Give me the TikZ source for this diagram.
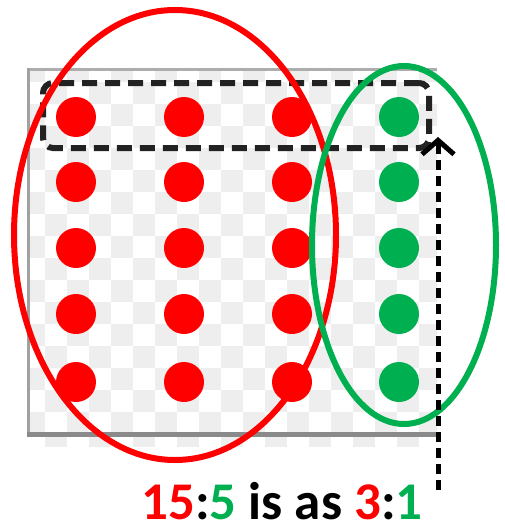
\documentclass[tikz,border=0pt]{standalone}
\usepackage{fontspec}
\setmainfont{Carlito}
\usetikzlibrary{arrows.meta}
\definecolor{myred}{HTML}{FF0000}
\definecolor{mygreen}{HTML}{00B050}
\definecolor{checkgray}{HTML}{EEEEEE}
\definecolor{panelgray}{HTML}{8A8A8A}
\definecolor{boxgray}{HTML}{222222}
\tikzset{
  reddot/.style={circle, fill=myred, draw=none, minimum size=40pt, inner sep=0pt},
  greendot/.style={circle, fill=mygreen, draw=none, minimum size=40pt, inner sep=0pt},
  rowbox/.style={draw=boxgray, line width=6pt, dash pattern=on 15pt off 8pt, rounded corners=10pt, minimum width=386pt, minimum height=65pt, inner sep=0pt},
  redring/.style={draw=myred, line width=6pt},
  greenring/.style={draw=mygreen, line width=6pt},
  pointer/.style={draw=black, line width=5pt, dash pattern=on 10pt off 6pt, -{Straight Barb[length=14pt,width=32pt,line width=5pt]}},
  caption/.style={font=\fontsize{53}{60}\selectfont\bfseries, inner sep=0pt, anchor=base, text depth=0pt}
}
\begin{document}
\begin{tikzpicture}[x=1pt,y=-1pt]
\useasboundingbox (0,0) rectangle (505,530);
% checkered panel
\begin{scope}
\clip (29,69) rectangle (437,446);
\fill[white] (29,69) rectangle (437,446);
\foreach \i in {-1,...,18}{
  \foreach \j in {-5,...,13}{
    \pgfmathtruncatemacro\p{mod(\i+\j+40,2)}
    \ifnum\p=0
      \fill[checkgray] ({45+22*\i},{170+22*\j}) rectangle +(22,22);
    \fi
  }
}
\end{scope}
\fill[white] (0,437) rectangle (29,446);
\fill[panelgray!70] (29,68) rectangle (437,70.5);
\fill[panelgray!80] (27,68) rectangle (30,437);
\fill[panelgray] (27,432) rectangle (437,437);
% dots
\foreach \r/\y in {1/117,2/182,3/248,4/314,5/382}{
  \node[reddot] (a\r) at (76,\y) {};
  \node[reddot] (b\r) at (184,\y) {};
  \node[reddot] (c\r) at (292,\y) {};
  \node[greendot] (g\r) at (399,\y) {};
}
% dashed row box
\node[rowbox] (row) at (236,115.5) {};
% ellipses
\draw[redring] (175,235) ellipse [x radius=161pt, y radius=225pt];
\draw[greenring] (404,245) ellipse [x radius=92pt, y radius=179pt];
% pointer arrow
\coordinate (pbot) at (438,490);
\coordinate (ptip) at (438,137);
\draw[pointer] (pbot) -- (ptip);
% caption
\node[caption] (cap) at (282,519) {\textcolor{myred}{15}:\textcolor{mygreen}{5} is as \textcolor{myred}{3}:\textcolor{mygreen}{1}};
\end{tikzpicture}
\end{document}
